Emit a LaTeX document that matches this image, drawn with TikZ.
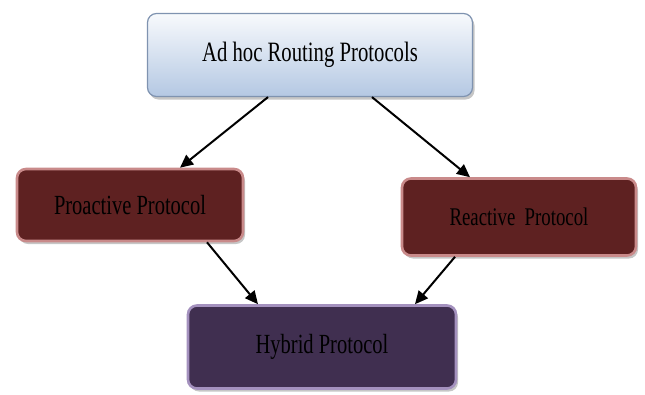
\documentclass[tikz,border=0pt]{standalone}
\usepackage{fontspec}
\setmainfont{Liberation Serif}[FakeStretch=0.74]
\usetikzlibrary{arrows.meta, positioning, shadows}
\definecolor{topfill}{HTML}{B4C8E3}
\definecolor{topedge}{HTML}{7F93B0}
\definecolor{maroon}{HTML}{5E2121}
\definecolor{maroonedge}{HTML}{C98A8A}
\definecolor{plum}{HTML}{402F50}
\definecolor{plumedge}{HTML}{A491BE}

\begin{document}
\begin{tikzpicture}[x=1pt, y=-1pt,
      base/.style={rectangle, rounded corners=9pt, align=center,
                   font=\fontsize{27.7}{31}\selectfont, text=black,
                   drop shadow={shadow xshift=2pt, shadow yshift=-3pt, opacity=0.45}},
      root/.style={base, draw=topedge, line width=1.2pt,
                   top color=white!90!topfill, bottom color=topfill,
                   minimum width=325pt, minimum height=83pt,
                   font=\fontsize{28}{31}\selectfont},
      family/.style={base, draw=maroonedge, line width=2.6pt, fill=maroon},
      mixed/.style={base, draw=plumedge, line width=2.6pt, fill=plum},
      arr/.style={-{Triangle[length=13pt, width=12pt]}, line width=2pt}
    ]
    \useasboundingbox (0,0) rectangle (645,394);

    \node[root] (adhoc) at (310, 55) {Ad hoc Routing Protocols};
    \node[family, minimum width=226pt, minimum height=72pt] (pro) at (130, 205) {Proactive Protocol};
    \node[family, minimum width=234pt, minimum height=77pt,
          font=\fontsize{25.4}{28}\selectfont] (re) at (519, 217) {Reactive~~Protocol};
    \node[mixed, minimum width=268pt, minimum height=83pt] (hyb) at (322, 347) {Hybrid Protocol};

    \draw[arr] ([xshift=-42pt]adhoc.south) -- ([xshift=50pt]pro.north);
    \draw[arr] ([xshift=62pt]adhoc.south)  -- ([xshift=-49pt]re.north);
    \draw[arr] ([xshift=77pt]pro.south)    -- ([xshift=-64pt]hyb.north);
    \draw[arr] ([xshift=-64pt]re.south)    -- ([xshift=93pt]hyb.north);
  \end{tikzpicture}
\end{document}
